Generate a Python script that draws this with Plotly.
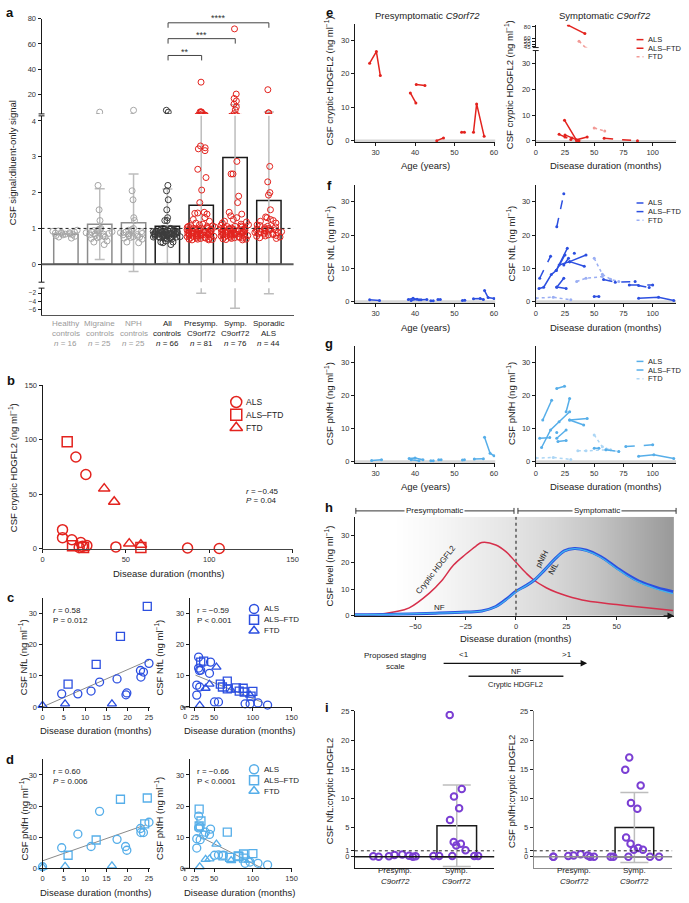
import plotly.graph_objects as go

W, H = 689, 903
FONT = "Liberation Sans, Arial, Helvetica, sans-serif"

RED = "#e3231e"; RED_FTD = "#f29a96"
BLUE = "#2c4fe0"; BLUE_FTD = "#9aaef3"
LBLUE = "#56aee9"; LBLUE_FTD = "#acd6f5"
PURPLE = "#7b3fd3"
CTRL_GRAY = "#a6a6a6"; CTRL_DARK = "#3c3c3c"
HRED = "#d62f4b"

# ---------------- Panel a data ----------------
a_groups = ["Healthy controls", "Migraine controls", "NPH controls", "All controls",
            "Presymp. C9orf72", "Symp. C9orf72", "Sporadic ALS"]
a_label_lines = [["Healthy", "controls", "<i>n</i> = 16"],
                 ["Migraine", "controls", "<i>n</i> = 25"],
                 ["NPH", "controls", "<i>n</i> = 25"],
                 ["All", "controls", "<i>n</i> = 66"],
                 ["Presymp.", "C9orf72", "<i>n</i> = 81"],
                 ["Symp.", "C9orf72", "<i>n</i> = 76"],
                 ["Sporadic", "ALS", "<i>n</i> = 44"]]
a_mean = [0.84, 1.12, 1.16, 1.06, 1.65, 2.98, 1.78]
a_sd = [None, 0.99, 1.36, 1.04, 3.65, 8.6, 3.9]
a_healthy = [0.95, 0.93, 0.92, 0.9, 0.89, 0.88, 0.87, 0.86, 0.85, 0.84, 0.83, 0.82, 0.8, 0.78, 0.76, 0.73]
a_migraine = [5.6, 2.2, 1.52, 1.22, 1.0, 0.98, 0.96, 0.94, 0.93, 0.91, 0.9, 0.88, 0.86, 0.85, 0.84,
              0.82, 0.8, 0.79, 0.77, 0.76, 0.74, 0.72, 0.65, 0.62, 0.55]
a_nph = [7.1, 2.05, 1.8, 1.3, 1.22, 1.0, 0.97, 0.95, 0.93, 0.91, 0.9, 0.88, 0.86, 0.85, 0.83,
         0.82, 0.8, 0.78, 0.77, 0.76, 0.75, 0.73, 0.7, 0.62, 0.6]
a_presymp = [29.5, 5.8, 5.6, 5.8, 4.4, 3.3, 3.25, 3.22, 3.17, 2.65, 2.42, 2.07, 1.72, 1.45, 1.43,
             1.42, 1.4, 1.3, 1.25, 1.2, 1.15, 1.12, 1.1,
             1.08, 1.07, 1.06, 1.05, 1.04, 1.03, 1.02, 1.01, 1.0, 1.0,
             0.99, 0.98, 0.98, 0.97, 0.96, 0.96, 0.95, 0.94, 0.94, 0.93,
             0.92, 0.92, 0.91, 0.9, 0.9, 0.89, 0.88, 0.88, 0.87, 0.87,
             0.86, 0.85, 0.85, 0.84, 0.84, 0.83, 0.82, 0.82, 0.81, 0.8,
             0.8, 0.79, 0.78, 0.78, 0.77, 0.76, 0.76, 0.75, 0.74, 0.73,
             0.73, 0.72, 0.71, 0.7, 0.7, 0.69, 0.68, 0.68]
a_symp = [72, 20, 16.5, 14.5, 12, 9.7, 7.4, 4.4,
          2.87, 2.52, 2.52, 1.9, 1.72, 1.45, 1.4, 1.35, 1.3, 1.25, 1.2, 1.18, 1.15, 1.12, 1.1,
          1.09, 1.07, 1.06, 1.05, 1.04, 1.02, 1.01, 1.0, 1.0, 0.99,
          0.98, 0.97, 0.97, 0.96, 0.95, 0.95, 0.94, 0.93, 0.93, 0.92,
          0.91, 0.91, 0.9, 0.9, 0.89, 0.88, 0.88, 0.87, 0.86, 0.86,
          0.85, 0.84, 0.84, 0.83, 0.82, 0.82, 0.81, 0.8, 0.8, 0.79,
          0.78, 0.78, 0.77, 0.76, 0.75, 0.75, 0.74, 0.73, 0.72, 0.71,
          0.7, 0.69, 0.68]
a_sporadic = [23.5, 5.0, 5.0, 2.73, 2.3, 2.0, 1.93, 1.52, 1.32, 1.3, 1.25, 1.22, 1.2, 1.15, 1.1,
              1.08, 1.06, 1.04, 1.02, 1.0, 0.99, 0.98, 0.97, 0.96, 0.95,
              0.94, 0.93, 0.92, 0.91, 0.9, 0.89, 0.88, 0.87, 0.86, 0.85,
              0.84, 0.83, 0.82, 0.8, 0.79, 0.78, 0.76, 0.74, 0.72]
a_values = [a_healthy, a_migraine, a_nph, a_healthy + a_migraine + a_nph,
            a_presymp, a_symp, a_sporadic]
a_point_colors = [CTRL_GRAY, CTRL_GRAY, CTRL_GRAY, CTRL_DARK, RED, RED, RED]
a_edge_colors = ["#8c8c8c", "#8c8c8c", "#8c8c8c", "#1a1a1a", "#1a1a1a", "#1a1a1a", "#1a1a1a"]
a_label_colors = ["#9a9a9a", "#9a9a9a", "#9a9a9a", "#222", "#222", "#222", "#222"]

# ---------------- Panel b data ----------------
b_als_x = [20, 26, 12, 12, 17.6, 23, 26.6, 24, 22, 44, 87, 106]
b_als_y = [84, 68, 17.3, 10, 8, 5.5, 2.7, 2, 1, 1.5, 0.5, 0]
b_alsftd_x = [14.8, 18, 24.6, 59]
b_alsftd_y = [98, 2.5, 1, 1]
b_ftd_x = [37, 43, 52, 59]
b_ftd_y = [55, 43, 4.5, 3.5]

# ---------------- Panel c data (NfL) ----------------
c_l_als_x = [4.5, 8.3, 11.4, 13.4, 17.5, 19.6, 19.8, 23.1, 23.0, 23.7, 25.0]
c_l_als_y = [4.2, 4.2, 5.1, 8.0, 9.0, 3.9, 4.5, 9.6, 11.7, 11.2, 14.0]
c_l_alsftd_x = [6.0, 12.6, 18.3, 24.6]
c_l_alsftd_y = [7.3, 13.7, 22.7, 32.3]
c_l_ftd_x = [0, 5.3, 16.3]
c_l_ftd_y = [0.5, 1.0, 1.0]
c_l_fit_x = [0, 25]
c_l_fit_y = [0, 15]
c_r_als_x = [27.6, 27.6, 30, 30, 32.7, 31.4, 31, 44, 45.4, 50.5, 55.6, 90, 96.4, 106.6, 119]
c_r_als_y = [3.8, 7.0, 12.5, 16.0, 11.8, 6.4, 11.7, 10.8, 14.4, 1.6, 1.6, 1.0, 1.0, 1.3, 0.6]
c_r_alsftd_x = [32.7, 36.5, 58, 67, 60.7, 67, 78.6, 82.4, 87.5, 88.8, 97.7, 100]
c_r_alsftd_y = [14.4, 14.7, 7.3, 8.3, 6.4, 5.8, 6.1, 5.1, 6.0, 4.8, 3.5, 5.0]
c_r_ftd_x = [31.4, 39, 44, 53, 72, 96.4]
c_r_ftd_y = [0.5, 6.0, 7.3, 12.8, 5.4, 3.8]
c_r_fit_x = [26, 113]
c_r_fit_y = [10.2, 1.4]

# ---------------- Panel d data (pNfH) ----------------
d_l_als_x = [4.5, 8.3, 11.4, 13.4, 17.5, 19.5, 19.8, 23, 23.1, 23.7, 25, 0]
d_l_als_y = [6.6, 11.0, 7.0, 18.3, 9.3, 7.0, 5.8, 12.8, 11.5, 11.5, 14.8, 0.5]
d_l_alsftd_x = [6, 12.6, 18.3, 24.6, 24]
d_l_alsftd_y = [4.2, 9.1, 22.2, 22.6, 14.3]
d_l_ftd_x = [0, 5.3, 16.3]
d_l_ftd_y = [0.4, 0.6, 0.8]
d_l_fit_x = [0, 24.3]
d_l_fit_y = [2.4, 14]
d_r_als_x = [27.6, 27.6, 30, 30, 32, 32, 36.5, 38.6, 44, 45.4, 50.5, 55.6, 61.7, 90, 96.4, 106.6, 119]
d_r_als_y = [6.5, 9.5, 13, 16.8, 13.3, 9.2, 10.7, 11.6, 10.9, 12.6, 4.2, 4.3, 4.2, 1.6, 2.0, 1.6, 1.1]
d_r_alsftd_x = [30.7, 33, 30.7, 61.4, 67, 70, 81, 88, 88, 100, 82]
d_r_alsftd_y = [19, 15.2, 13.6, 4.0, 11.6, 3.5, 4.0, 4.6, 3.3, 4.7, 3.8]
d_r_ftd_x = [31.4, 39, 44, 53, 72, 95]
d_r_ftd_y = [0.5, 2.9, 3.0, 7.8, 2.5, 2.6]
d_r_fit_x = [27, 112]
d_r_fit_y = [10.8, 0]

# ---------------- Panel e data (cryptic HDGFL2 longitudinal) ----------------
e_pre_x = [28.5, 30.2, 31.2, None, 38.8, 40.2, None, 40.3, 42.5, None, 45.5, 47.2, None,
           51.8, 52.5, None, 54.8, 55.6, 57.5]
e_pre_y = [23.2, 26.7, 19.5, None, 14.3, 11.3, None, 16.8, 16.5, None, 0.0, 0.8, None,
           2.5, 2.5, None, 2.5, 11.0, 1.3]
e_als_x = [28, 42, None, 24.6, 34.7, 44, None, 25, 31, 37]
e_als_y = [82, 68, None, 8.0, 0.4, 1.5, None, 2.3, 1.1, 0.0]
e_alsftd_x = [20, 25, 30, 35, None, 58.5, 87]
e_alsftd_y = [2.5, 1.5, 0.5, 0.0, None, 1.0, 0.0]
e_ftd_x = [37, 43, None, 50, 59]
e_ftd_y = [55, 43, None, 5.0, 3.8]

# ---------------- Panel f data (NfL longitudinal) ----------------
f_pre_x = [28.5, 31, None, 38.3, 39.5, 41, None, 39, 40.5, None, 41.5, 43, None, 44, 44.6, None,
           45.8, 46.4, None, 52, 52.6, None, 54.8, 56.5, 57.3, None, 57.6, 58.5, 60]
f_pre_y = [0.5, 0.3, None, 0.6, 1.0, 0.5, None, 0.3, 0.7, None, 0.5, 0.6, None, 0.2, 0.2, None,
           0.6, 0.6, None, 0.3, 0.4, None, 0.8, 0.9, 0.6, None, 3.3, 1.2, 0.9]
f_als_x = [2.8, 6.8, 13.3, 17.5, 27, None, 17.5, 25, None, 20, 29, 43, None, 29, 41.5, None,
           18, 26, None, 18, 24, None, 50, 54, None, 88, 105, 118]
f_als_y = [3.9, 4.3, 8.1, 9.3, 16, None, 9.3, 14, None, 11, 12, 14, None, 12, 10.6, None,
           4.4, 3.9, None, 4.3, 7.0, None, 1.5, 1.5, None, 1.0, 1.3, 0.3]
f_alsftd_x = [3.4, 12.7, None, 18, 24, None, 24, 28, 33, None, 58, 68, 85, 88, 97, None, 80, 100]
f_alsftd_y = [7.0, 13.6, None, 22.5, 32.4, None, 11, 13, 14.5, None, 6.6, 5.8, 6.0, 4.8, 4.2, None, 5.0, 5.0]
f_ftd_x = [0, 15, 30, None, 35, 43, 57, None, 50, 57, 64, 71]
f_ftd_y = [1.0, 1.3, 0.5, None, 6.0, 7.0, 7.5, None, 13, 8.2, 6.7, 6.0]

# ---------------- Panel g data (pNfH longitudinal) ----------------
g_pre_x = [29, 31.5, None, 38.5, 40, 42, None, 39, 41, None, 44, 44.6, None, 46, 46.6, None,
           52, 52.5, None, 55, 57.3, None, 57.6, 59, 60]
g_pre_y = [0.3, 0.5, None, 0.9, 1.0, 0.5, None, 0.5, 0.2, None, 0.2, 0.2, None, 0.5, 0.5, None,
           0.4, 0.5, None, 0.7, 0.8, None, 7.3, 2.5, 1.7]
g_als_x = [5, 12.7, 20, 29, None, 6, 13.6, None, 26, 29, None, 29, 44, None, 29, 41, None,
           18, 26, None, 19, 26, None, 88, 101, 118, None, 50, 54]
g_als_y = [4.2, 9.5, 12, 15, None, 12.5, 18.5, None, 15, 19, None, 12.5, 13, None, 12.5, 11, None,
           7.0, 9.5, None, 6.0, 6.3, None, 1.6, 2.0, 0.9, None, 4.0, 4.0]
g_alsftd_x = [18, 24.6, None, 3.4, 12, 18, None, 77, 100, None, 60, 71]
g_alsftd_y = [22, 22.7, None, 7.0, 7.2, 8.7, None, 4.5, 5.0, None, 3.5, 3.0]
g_ftd_x = [0, 15, 30, None, 50, 57, 64, None, 36, 43, 60, 71]
g_ftd_y = [1.0, 1.2, 0.6, None, 8.0, 4.4, 3.5, None, 3.2, 3.2, 3.5, 3.0]

# ---------------- Panel h data (model curves) ----------------
h_hdg_x = [-80, -70, -60, -53, -43, -37, -31, -25, -20, -17, -10, -5, 0, 5, 9, 15, 20, 25, 35, 50, 65, 78]
h_hdg_y = [0.3, 0.4, 1.5, 3.0, 8.5, 13, 19, 23, 26, 27.4, 26.5, 24, 20, 16, 13.3, 10.5, 8.8, 7.5, 5.6, 4.2, 3.0, 2.0]
h_nf_x = [-80, -60, -40, -25, -17, -10, -4, 0, 5, 9, 14, 19, 24, 29, 35, 42, 50, 55, 61, 70, 78]
h_nfl_y = [0.4, 0.6, 1.0, 1.4, 1.8, 3.5, 6.7, 9.2, 11.3, 13.3, 17, 21, 24.3, 25.2, 24.5, 22.2, 18, 15.5, 13, 10.5, 9.0]
h_pnfh_y = [0.4, 0.6, 1.0, 1.4, 1.8, 3.4, 6.5, 9.0, 11.2, 13.3, 17, 21, 24.2, 25.1, 24.3, 21.9, 17.6, 15.1, 12.6, 10.0, 8.3]
h_bg_x = [-80, -60, -40, -20, 0, 20, 40, 60, 78.5]
h_bg_level = [1.0, 1.0, 0.97, 0.93, 0.89, 0.84, 0.77, 0.68, 0.6]

# ---------------- Panel i data ----------------
i_groups = ["Presymp.", "Symp."]
i_nfl_mean = [None, 5.3]
i_nfl_sd = [None, 7.0]
i_nfl_pre = [0.0, 0.35, 0.05, 0.3, 0.0, 0.15, 0.05, 0.05]
i_nfl_sym = [24.3, 11.6, 10.3, 8.3, 6.3, 2.5, 2.2, 1.9, 1.1, 0.1, 0.1, 0.1, 0.1, 0.1]
i_pnfh_mean = [None, 5.0]
i_pnfh_sd = [None, 6.0]
i_pnfh_pre = [0.0, 0.4, 0.1, 0.2, 0.0, 0.2, 0.0, 0.0]
i_pnfh_sym = [17.0, 14.9, 12.2, 9.2, 8.2, 3.3, 2.2, 1.5, 1.2, 1.2, 0.0, 0.0, 0.0, 0.0, 0.0]

# =============================================================
fig = go.Figure()
layout = {}
annotations = []
shapes = []

TICK = 7.5
AX = dict(showgrid=False, zeroline=False, showline=True, linecolor="#1a1a1a", linewidth=1,
          ticks="outside", ticklen=3, tickwidth=1, tickcolor="#1a1a1a",
          tickfont=dict(family=FONT, size=TICK, color="#333"), fixedrange=True)


def X(p):
    return p / W


def Y(p):
    return 1 - p / H


def make_axes(n, xpx, ypx, xr, yr, xkw=None, ykw=None):
    xn = "xaxis" if n == 1 else f"xaxis{n}"
    yn = "yaxis" if n == 1 else f"yaxis{n}"
    xid = "x" if n == 1 else f"x{n}"
    yid = "y" if n == 1 else f"y{n}"
    xa = dict(AX); xa.update(domain=[X(xpx[0]), X(xpx[1])], range=xr, anchor=yid)
    ya = dict(AX); ya.update(domain=[Y(ypx[1]), Y(ypx[0])], range=yr, anchor=xid)
    if xkw:
        xa.update(xkw)
    if ykw:
        ya.update(ykw)
    layout[xn] = xa
    layout[yn] = ya
    return xid, yid


def txt(text, x, y, size=8, color="#222", xanchor="center", yanchor="middle", angle=0, **kw):
    annotations.append(dict(text=text, x=X(x), y=Y(y), xref="paper", yref="paper", showarrow=False,
                            font=dict(family=FONT, size=size, color=color), xanchor=xanchor,
                            yanchor=yanchor, textangle=angle, **kw))


def pline(x0, y0, x1, y1, color="#222", width=1, dash="solid"):
    shapes.append(dict(type="line", xref="paper", yref="paper", x0=X(x0), y0=Y(y0), x1=X(x1), y1=Y(y1),
                       line=dict(color=color, width=width, dash=dash), layer="above"))


TITLE = 9.5

# ---------------- Panel a ----------------
A_SEG = [(1, (15, 111), [4.2, 80], [20, 40, 60, 80]),
         (2, (113, 281), [-0.5, 4.14], [0, 1, 2, 3, 4]),
         (3, (287, 314), [-7.2, -0.8], [-2, -4, -6])]
for n, ypx, yr, tv in A_SEG:
    if n == 3:
        xkw = dict(showticklabels=False, ticks="", linecolor="#555", linewidth=1.5,
                   type="category", categoryorder="array", categoryarray=a_groups)
        ykw = dict(tickvals=tv, tickfont=dict(family=FONT, size=6.5, color="#333"))
    else:
        xkw = dict(visible=False, type="category", categoryorder="array", categoryarray=a_groups)
        ykw = dict(tickvals=tv)
    xa, ya = make_axes(n, (40, 295), ypx, [-0.72, 6.73], yr, xkw, ykw)
    fig.add_trace(go.Bar(x=a_groups, y=a_mean, width=0.72,
                         marker=dict(color="white", line=dict(color=a_edge_colors, width=1.5)),
                         error_y=dict(type="data", array=a_sd, visible=True, color="#bdbdbd",
                                      thickness=1.5, width=5),
                         xaxis=xa, yaxis=ya, showlegend=False))
    for g, vals, col in zip(a_groups, a_values, a_point_colors):
        fig.add_trace(go.Box(x=[g] * len(vals), y=vals, boxpoints="all", jitter=1.0, pointpos=0,
                             width=0.85, marker=dict(symbol="circle-open", size=6, color=col,
                                                     line=dict(width=1, color=col)),
                             line=dict(width=0, color="rgba(0,0,0,0)"), fillcolor="rgba(0,0,0,0)",
                             xaxis=xa, yaxis=ya, showlegend=False))
shapes.append(dict(type="line", xref="paper", yref="y2", x0=X(40), x1=X(295), y0=0, y1=0,
                   line=dict(color="#5a5a5a", width=2), layer="above"))
shapes.append(dict(type="line", xref="paper", yref="y2", x0=X(40), x1=X(295), y0=1, y1=1,
                   line=dict(color="#222", width=1, dash="dot"), layer="above"))
for yy in (111, 113, 281, 287):
    pline(37, yy, 43, yy, "#1a1a1a", 1)
# significance brackets
for xr_, yb, ye, star, sy in [(270, 19, 24, "****", 13), (236, 35, 40, "***", 30), (202, 52, 57, "**", 47)]:
    pline(168, ye, 168, yb, "#444", 1)
    pline(168, yb, xr_, yb, "#444", 1)
    pline(xr_, yb, xr_, ye, "#444", 1)
    txt(star, (168 + xr_) / 2, sy + 1, size=9, color="#333")
for g, lines, col in zip(a_groups, a_label_lines, a_label_colors):
    for k, line in enumerate(lines):
        annotations.append(dict(text=line, x=g, xref="x3", y=Y(323 + 10 * k), yref="paper",
                                showarrow=False, font=dict(family=FONT, size=8, color=col)))
txt("CSF signal:diluent-only signal", 11, 160, size=TITLE, angle=-90)

# ---------------- Panel b ----------------
xa, ya = make_axes(4, (41, 294), (385, 550), [0, 150], [0, 150],
                   dict(tickvals=[0, 50, 100, 150], linecolor="#444", linewidth=1.5),
                   dict(tickvals=[0, 50, 100, 150]))
for xs, ys, sym in [(b_als_x, b_als_y, "circle-open"), (b_alsftd_x, b_alsftd_y, "square-open"),
                    (b_ftd_x, b_ftd_y, "triangle-up-open")]:
    fig.add_trace(go.Scatter(x=xs, y=ys, mode="markers", cliponaxis=False,
                             marker=dict(symbol=sym, size=10, color=RED, line=dict(width=1.5, color=RED)),
                             xaxis=xa, yaxis=ya, showlegend=False))
txt("Disease duration (months)", 168, 575, size=TITLE)
txt("CSF cryptic HDGFL2 (ng ml<sup>−1</sup>)", 11, 468, size=TITLE, angle=-90)
txt("<i>r</i> = −0.45", 245, 492, xanchor="left")
txt("<i>P</i> = 0.04", 245, 502, xanchor="left")

# ---------------- Panels c and d ----------------
def scatter_panel(n_l, n_r, ypx, col, left, right, ytitle, stats_l, stats_r, ytext):
    xl, yl = make_axes(n_l, (41, 150), ypx, [0, 25.3], [0, 35],
                       dict(tickvals=[0, 5, 10, 15, 20, 25]), dict(tickvals=[0, 10, 20, 30]))
    xr, yr = make_axes(n_r, (190, 293), ypx, [18.6, 150], [0, 35],
                       dict(tickvals=[25, 50, 100, 150]), dict(tickvals=[0, 10, 20, 30]))
    for (xax, yax, grp) in [(xl, yl, left), (xr, yr, right)]:
        fx, fy = grp[3]
        fig.add_trace(go.Scatter(x=fx, y=fy, mode="lines", line=dict(color="#8a8a8a", width=1),
                                 xaxis=xax, yaxis=yax, showlegend=False))
        for (xs, ys), sym in zip(grp[:3], ["circle-open", "square-open", "triangle-up-open"]):
            fig.add_trace(go.Scatter(x=xs, y=ys, mode="markers", cliponaxis=False,
                                     marker=dict(symbol=sym, size=8, color=col,
                                                 line=dict(width=1.3, color=col)),
                                     xaxis=xax, yaxis=yax, showlegend=False))
    y0 = ypx[1]
    txt("Disease duration (months)", 95, y0 + 24, size=TITLE)
    txt("Disease duration (months)", 240, y0 + 24, size=TITLE)
    txt(ytitle, 22, (ypx[0] + ypx[1]) / 2 + 5, size=TITLE, angle=-90)
    txt(ytitle, 159, (ypx[0] + ypx[1]) / 2 + 5, size=TITLE, angle=-90)
    txt(stats_l[0], 50, ytext, xanchor="left")
    txt(stats_l[1], 50, ytext + 10, xanchor="left")
    txt(stats_r[0], 195, ytext, xanchor="left")
    txt(stats_r[1], 195, ytext + 10, xanchor="left")
    # broken x axis start at 0
    txt("0", 185, y0 + 10, size=TICK, color="#333")
    pline(182, y0, 189, y0, "#1a1a1a", 1)
    pline(185, y0, 185, y0 + 3, "#1a1a1a", 1)


scatter_panel(5, 6, (600, 710), BLUE,
              [(c_l_als_x, c_l_als_y), (c_l_alsftd_x, c_l_alsftd_y), (c_l_ftd_x, c_l_ftd_y), (c_l_fit_x, c_l_fit_y)],
              [(c_r_als_x, c_r_als_y), (c_r_alsftd_x, c_r_alsftd_y), (c_r_ftd_x, c_r_ftd_y), (c_r_fit_x, c_r_fit_y)],
              "CSF NfL (ng ml<sup>−1</sup>)", ["<i>r</i> = 0.58", "P = 0.012"],
              ["r = −0.59", "P < 0.001"], 613)
scatter_panel(7, 8, (763, 873), LBLUE,
              [(d_l_als_x, d_l_als_y), (d_l_alsftd_x, d_l_alsftd_y), (d_l_ftd_x, d_l_ftd_y), (d_l_fit_x, d_l_fit_y)],
              [(d_r_als_x, d_r_als_y), (d_r_alsftd_x, d_r_alsftd_y), (d_r_ftd_x, d_r_ftd_y), (d_r_fit_x, d_r_fit_y)],
              "CSF pNfH (ng ml<sup>−1</sup>)", ["r = 0.60", "<i>P</i> = 0.006"],
              ["r = −0.66", "P < 0.0001"], 775)

# ---------------- Panels e, f, g ----------------
def zero_band(xid, yid):
    shapes.append(dict(type="rect", xref=f"{xid} domain", yref=yid, x0=0, x1=1, y0=-0.5, y1=0.35,
                       fillcolor="#d6d6d6", line=dict(width=0), layer="below"))


def long_traces(xid, yid, groups):
    for xs, ys, col, dash in groups:
        fig.add_trace(go.Scatter(x=xs, y=ys, mode="lines+markers", connectgaps=False,
                                 line=dict(color=col, width=1.5, dash=dash),
                                 marker=dict(size=3, color=col), xaxis=xid, yaxis=yid, showlegend=False))


# e left
xa, ya = make_axes(9, (357, 499), (20, 139.7), [24.75, 60.3], [-0.5, 35],
                   dict(tickvals=[30, 40, 50, 60]), dict(tickvals=[0, 10, 20, 30]))
zero_band(xa, ya)
long_traces(xa, ya, [(e_pre_x, e_pre_y, RED, "solid")])
# e right (broken y)
e_groups = [(e_als_x, e_als_y, RED, "solid"), (e_alsftd_x, e_alsftd_y, RED, "dash"),
            (e_ftd_x, e_ftd_y, RED_FTD, "dot")]
xa, ya = make_axes(10, (540, 682), (21, 44), [0, 120], [44, 83],
                   dict(visible=False), dict(tickvals=[45, 50, 55, 60, 80],
                                             tickfont=dict(family=FONT, size=6, color="#333")))
long_traces(xa, ya, e_groups)
xa, ya = make_axes(11, (540, 682), (47, 139.5), [0, 120], [-0.5, 35],
                   dict(tickvals=[0, 25, 50, 75, 100]), dict(tickvals=[0, 10, 20, 30]))
zero_band(xa, ya)
long_traces(xa, ya, e_groups)
pline(537, 44, 543, 44); pline(537, 47, 543, 47)
# f
xa, ya = make_axes(12, (357, 499), (183, 302.2), [24.75, 60.3], [-0.5, 35],
                   dict(tickvals=[30, 40, 50, 60]), dict(tickvals=[0, 10, 20, 30]))
zero_band(xa, ya)
long_traces(xa, ya, [(f_pre_x, f_pre_y, BLUE, "solid")])
xa, ya = make_axes(13, (540, 682), (183, 302.2), [0, 120], [-0.5, 35],
                   dict(tickvals=[0, 25, 50, 75, 100]), dict(tickvals=[0, 10, 20, 30]))
zero_band(xa, ya)
long_traces(xa, ya, [(f_ftd_x, f_ftd_y, BLUE_FTD, "dot"), (f_alsftd_x, f_alsftd_y, BLUE, "dash"),
                     (f_als_x, f_als_y, BLUE, "solid")])
# g
xa, ya = make_axes(14, (357, 499), (345, 463.7), [24.75, 60.3], [-0.5, 35],
                   dict(tickvals=[30, 40, 50, 60]), dict(tickvals=[0, 10, 20, 30]))
zero_band(xa, ya)
long_traces(xa, ya, [(g_pre_x, g_pre_y, LBLUE, "solid")])
xa, ya = make_axes(15, (540, 682), (345, 463.7), [0, 120], [-0.5, 35],
                   dict(tickvals=[0, 25, 50, 75, 100]), dict(tickvals=[0, 10, 20, 30]))
zero_band(xa, ya)
long_traces(xa, ya, [(g_ftd_x, g_ftd_y, LBLUE_FTD, "dot"), (g_alsftd_x, g_alsftd_y, LBLUE, "dash"),
                     (g_als_x, g_als_y, LBLUE, "solid")])

txt("Presymptomatic <i>C9orf72</i>", 430, 12, size=TITLE)
txt("Symptomatic <i>C9orf72</i>", 610, 12, size=TITLE)
for yy in (163, 327, 487):
    txt("Age (years)", 428, yy, size=TITLE)
    txt("Disease duration (months)", 611, yy, size=TITLE)
txt("CSF cryptic HDGFL2 (ng ml<sup>−1</sup>)", 331, 78, size=TITLE, angle=-90)
txt("CSF cryptic HDGFL2 (ng ml<sup>−1</sup>)", 513, 82, size=TITLE, angle=-90)
txt("CSF NfL (ng ml<sup>−1</sup>)", 331, 242, size=TITLE, angle=-90)
txt("CSF NfL (ng ml<sup>−1</sup>)", 515, 242, size=TITLE, angle=-90)
txt("CSF pNfH (ng ml<sup>−1</sup>)", 331, 404, size=TITLE, angle=-90)
txt("CSF pNfH (ng ml<sup>−1</sup>)", 515, 404, size=TITLE, angle=-90)

# ---------------- Panel h ----------------
xa, ya = make_axes(16, (357, 680), (518, 618), [-80, 78.5], [0, 37],
                   dict(tickvals=[-50, -25, 0, 25, 50]), dict(tickvals=[0, 10, 20, 30]))
fig.add_trace(go.Heatmap(x=h_bg_x, y=[0, 37], z=[h_bg_level, h_bg_level], zmin=0, zmax=1,
                         colorscale=[[0, "rgb(0,0,0)"], [1, "rgb(255,255,255)"]], zsmooth="best",
                         showscale=False, hoverinfo="skip", xaxis=xa, yaxis=ya))
fig.add_trace(go.Scatter(x=h_hdg_x, y=h_hdg_y, mode="lines", line=dict(color=HRED, width=1.5, shape="spline"),
                         xaxis=xa, yaxis=ya, showlegend=False))
fig.add_trace(go.Scatter(x=h_nf_x, y=h_nfl_y, mode="lines", line=dict(color=BLUE, width=3, shape="spline"),
                         xaxis=xa, yaxis=ya, showlegend=False))
fig.add_trace(go.Scatter(x=h_nf_x, y=h_pnfh_y, mode="lines", line=dict(color="#3fb2ee", width=1.3, shape="spline"),
                         xaxis=xa, yaxis=ya, showlegend=False))
shapes.append(dict(type="line", xref=xa, yref=ya, x0=0, x1=0, y0=0, y1=37,
                   line=dict(color="#7a7a7a", width=2, dash="dot"), layer="above"))
annotations.append(dict(x=78.5, y=0, xref=xa, yref=ya, ax=-12, ay=0, axref="pixel", ayref="pixel",
                        showarrow=True, arrowhead=2, arrowsize=1.1, arrowwidth=1.2, arrowcolor="#1a1a1a", text=""))
txt("Cryptic HDGFL2", 439, 571, size=8, angle=-52)
txt("NF", 443, 610, size=8)
txt("pNfH", 546, 561, size=8, angle=-62)
txt("NfL", 558, 570, size=8, angle=-62)
txt("Disease duration (months)", 520, 641, size=TITLE)
txt("CSF level (ng ml<sup>−1</sup>)", 331, 568, size=TITLE, angle=-90)
# presymptomatic / symptomatic brackets
pline(358, 512, 518, 512, "#333", 1); pline(358, 509, 358, 515, "#333", 1); pline(518, 509, 518, 515, "#333", 1)
pline(522, 512, 682, 512, "#333", 1); pline(522, 509, 522, 515, "#333", 1); pline(682, 509, 682, 515, "#333", 1)
txt("Presymptomatic", 438, 512, size=8, bgcolor="white")
txt("Symptomatic", 602, 512, size=8, bgcolor="white")
# staging scale
txt("Proposed staging", 398, 658, size=8)
txt("scale", 398, 669, size=8)
txt("<1", 467, 657, size=8)
txt(">1", 572, 657, size=8)
annotations.append(dict(x=X(592), y=Y(666), xref="paper", yref="paper", ax=-145, ay=0,
                        axref="pixel", ayref="pixel", showarrow=True, arrowhead=2, arrowsize=1,
                        arrowwidth=1.3, arrowcolor="#111", text=""))
txt("NF", 520, 674, size=7.5)
pline(472, 679, 568, 679, "#222", 1.5)
txt("Cryptic HDGFL2", 520, 687, size=7.5)

# ---------------- Panel i ----------------
def ratio_panel(n, xpx, xr, mean, sd, pre, sym, ytitle, ytx, axcol):
    xa, ya = make_axes(n, xpx, (714, 873), xr, [-2, 25],
                       dict(showticklabels=False, ticks="", type="category", categoryorder="array",
                            categoryarray=i_groups, linecolor=axcol),
                       dict(tickvals=[0, 1, 5, 10, 15, 20, 25], linecolor=axcol))
    fig.add_trace(go.Bar(x=i_groups, y=mean, width=0.645,
                         marker=dict(color="rgba(0,0,0,0)", line=dict(color="#1a1a1a", width=1.5)),
                         error_y=dict(type="data", array=sd, visible=True, color="#bdbdbd", thickness=1.5, width=14),
                         xaxis=xa, yaxis=ya, showlegend=False))
    for g, vals in zip(i_groups, [pre, sym]):
        fig.add_trace(go.Box(x=[g] * len(vals), y=vals, boxpoints="all", jitter=1.0, pointpos=0, width=1.1,
                             marker=dict(symbol="circle-open", size=6.5, color=PURPLE, line=dict(width=2, color=PURPLE)),
                             line=dict(width=0, color="rgba(0,0,0,0)"), fillcolor="rgba(0,0,0,0)",
                             xaxis=xa, yaxis=ya, showlegend=False))
    shapes.append(dict(type="line", xref=f"{xa} domain", yref=ya, x0=0, x1=1, y0=0, y1=0,
                       line=dict(color=axcol, width=1.5), layer="above"))
    shapes.append(dict(type="line", xref=f"{xa} domain", yref=ya, x0=0, x1=1, y0=1, y1=1,
                       line=dict(color="#222", width=1, dash="dot"), layer="above"))
    for g in i_groups:
        annotations.append(dict(text=g, x=g, xref=xa, y=Y(882), yref="paper", showarrow=False,
                                font=dict(family=FONT, size=8, color="#222")))
        annotations.append(dict(text="<i>C9orf72</i>", x=g, xref=xa, y=Y(893), yref="paper", showarrow=False,
                                font=dict(family=FONT, size=8, color="#222")))
    txt(ytitle, ytx, 795, size=TITLE, angle=-90)


ratio_panel(17, (357, 498), [-0.66, 1.61], i_nfl_mean, i_nfl_sd, i_nfl_pre, i_nfl_sym,
            "CSF NfL:cryptic HDGFL2", 331, "#1a1a1a")
ratio_panel(18, (538, 678), [-0.68, 1.63], i_pnfh_mean, i_pnfh_sd, i_pnfh_pre, i_pnfh_sym,
            "CSF pNfH:cryptic HDGFL2", 515, "#8c8c8c")

# ---------------- Legends (pixel overlay axis) ----------------
layout["xaxis30"] = dict(domain=[0, 1], range=[0, W], visible=False, fixedrange=True, anchor="y30")
layout["yaxis30"] = dict(domain=[0, 1], range=[H, 0], visible=False, fixedrange=True, anchor="x30")
leg_names = ["ALS", "ALS–FTD", "FTD"]
leg_syms = ["circle-open", "square-open", "triangle-up-open"]
for (lx, ly0, dy, col, size, fs) in [(237, 402, 13, RED, 11, 8.5), (255, 611, 11, BLUE, 9, 8), (255, 773, 11, LBLUE, 9, 8)]:
    for k in range(3):
        fig.add_trace(go.Scatter(x=[lx], y=[ly0 + k * dy], mode="markers", cliponaxis=False,
                                 marker=dict(symbol=leg_syms[k], size=size, color=col, line=dict(width=1.5, color=col)),
                                 xaxis="x30", yaxis="y30", showlegend=False))
        txt(leg_names[k], lx + 8, ly0 + k * dy, size=fs, xanchor="left")
for (ly0, cols) in [(36, (RED, RED, RED_FTD)), (201, (BLUE, BLUE, BLUE_FTD)), (361, (LBLUE, LBLUE, LBLUE_FTD))]:
    for k, dash in enumerate(["solid", "dash", "dot"]):
        fig.add_trace(go.Scatter(x=[642, 649], y=[ly0 + 8.7 * k] * 2, mode="lines",
                                 line=dict(color=cols[k], width=1.5, dash=dash),
                                 xaxis="x30", yaxis="y30", showlegend=False))
        txt(leg_names[k], 652, ly0 + 8.7 * k, size=7.5, xanchor="left")

# ---------------- Panel letters ----------------
for lab, lx, ly in [("a", 8, 9), ("b", 9, 380), ("c", 9, 599), ("d", 8, 763),
                    ("e", 331, 9), ("f", 331, 183), ("g", 331, 343), ("h", 331, 509), ("i", 329, 711)]:
    txt(f"<b>{lab}</b>", lx, ly, size=13, color="#111")

fig.update_layout(width=W, height=H, margin=dict(l=0, r=0, t=0, b=0), paper_bgcolor="white",
                  plot_bgcolor="rgba(0,0,0,0)", showlegend=False, annotations=annotations, shapes=shapes,
                  hovermode=False, font=dict(family=FONT, size=8, color="#222"), **layout)
fig.write_html("out.html", config={"displayModeBar": False, "staticPlot": True},
               post_script="document.body.style.margin='0';document.body.style.overflow='hidden';")
